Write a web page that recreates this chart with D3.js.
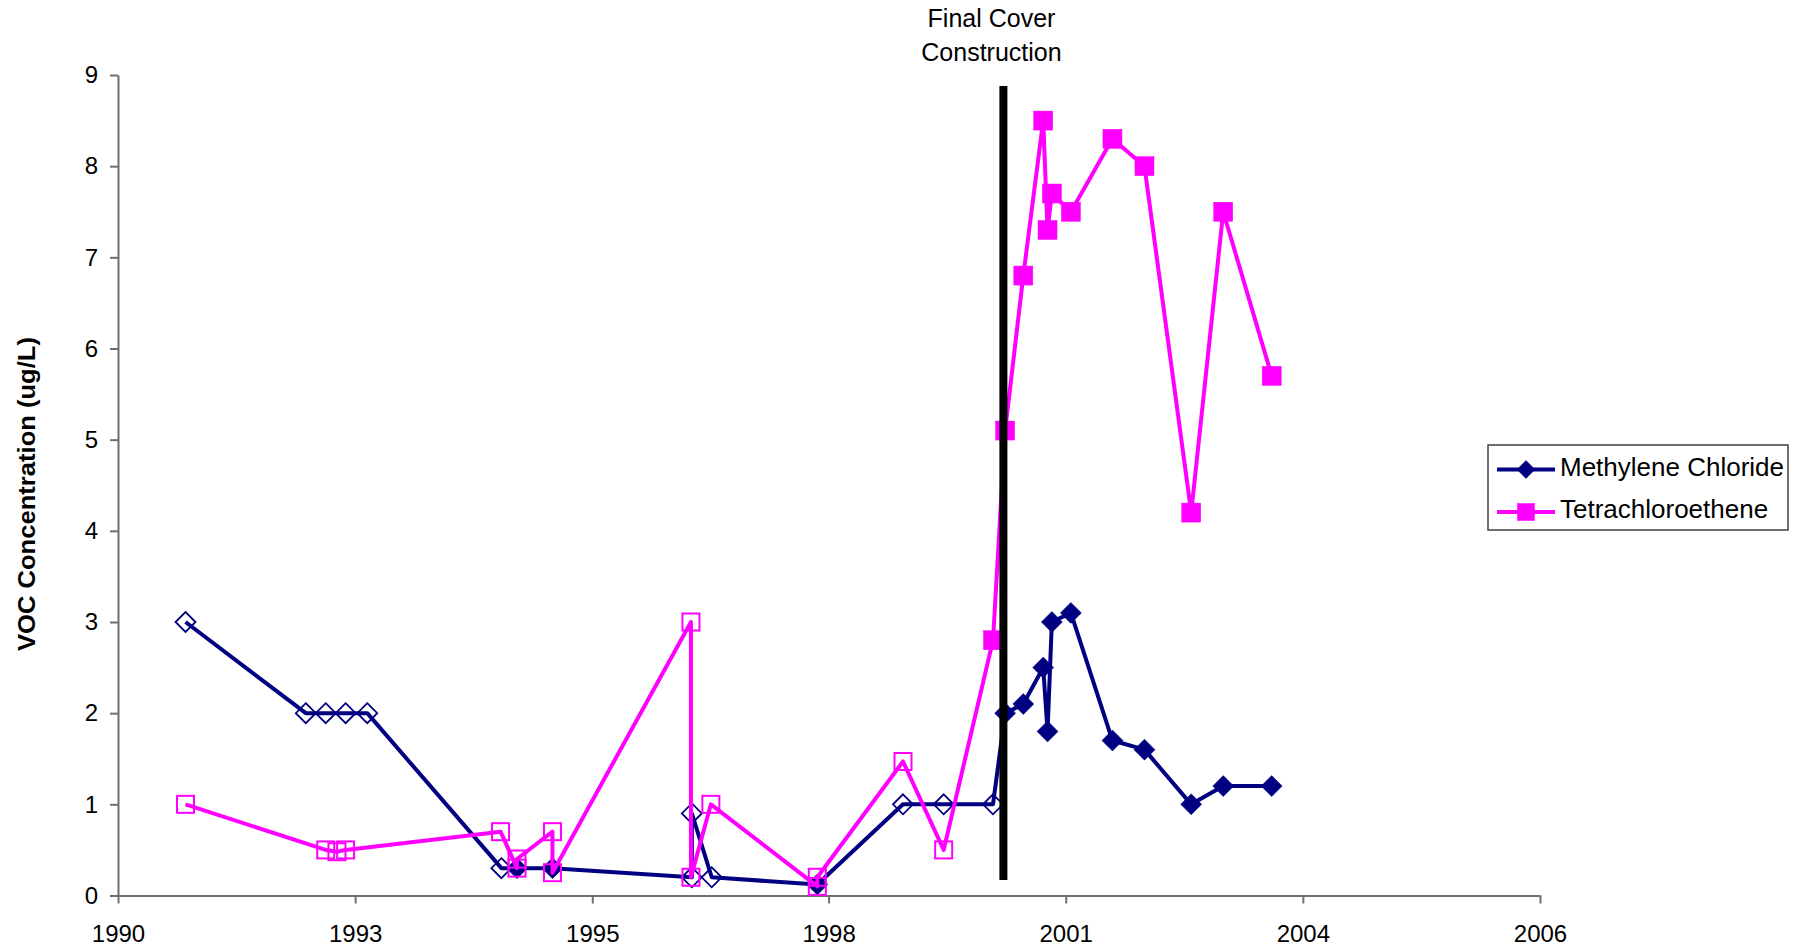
<!DOCTYPE html>
<html>
<head>
<meta charset="utf-8">
<script src="https://cdn.jsdelivr.net/npm/d3@7"></script>
<style>
  html, body { margin: 0; padding: 0; background: #ffffff; }
  svg { display: block; font-family: "Liberation Sans", Arial, sans-serif; }
</style>
</head>
<body>
<svg id="chart" width="1803" height="949"></svg>
<script>
// ---------- data (decimal years / ug/L) ----------
const mcDates = [1991.23, 1992.62, 1992.85, 1993.08, 1993.33, 1994.88, 1995.06, 1995.47, 1997.08, 1997.08, 1997.31, 1998.53, 1999.52, 1999.99, 2000.56, 2000.70, 2000.91, 2001.14, 2001.19, 2001.24, 2001.46, 2001.94, 2002.31, 2002.85, 2003.22, 2003.78];
const mcValues = [3.0, 2.0, 2.0, 2.0, 2.0, 0.3, 0.3, 0.3, 0.2, 0.9, 0.2, 0.12, 1.0, 1.0, 1.0, 2.0, 2.1, 2.5, 1.8, 3.0, 3.1, 1.7, 1.6, 1.0, 1.2, 1.2];
const mcDetected = [0, 0, 0, 0, 0, 0, 1, 1, 0, 0, 0, 1, 0, 0, 0, 1, 1, 1, 1, 1, 1, 1, 1, 1, 1, 1];

const pceDates = [1991.23, 1992.85, 1992.98, 1993.08, 1994.87, 1995.06, 1995.06, 1995.47, 1995.47, 1997.07, 1997.07, 1997.30, 1998.53, 1998.53, 1999.52, 1999.99, 2000.56, 2000.70, 2000.91, 2001.14, 2001.19, 2001.24, 2001.46, 2001.94, 2002.31, 2002.85, 2003.22, 2003.78];
const pceValues = [1.0, 0.5, 0.48, 0.5, 0.7, 0.3, 0.4, 0.7, 0.25, 3.0, 0.2, 1.0, 0.1, 0.2, 1.47, 0.5, 2.8, 5.1, 6.8, 8.5, 7.3, 7.7, 7.5, 8.3, 8.0, 4.2, 7.5, 5.7];
const pceDetected = [0, 0, 0, 0, 0, 0, 0, 0, 0, 0, 0, 0, 0, 0, 0, 0, 1, 1, 1, 1, 1, 1, 1, 1, 1, 1, 1, 1];

const seriesNames = ["Methylene Chloride", "Tetrachloroethene"];
const seriesColors = ["#000080", "#ff00ff"];

const xTickDates = [1990.45, 1993.19, 1995.93, 1998.66, 2001.40, 2004.14, 2006.88];
const xTickLabels = ["1990", "1993", "1995", "1998", "2001", "2004", "2006"];
const yTicks = [0, 1, 2, 3, 4, 5, 6, 7, 8, 9];

const coverDate = 2000.68;
const coverRange = [0.17, 8.88];
const coverLabel = ["Final Cover", "Construction"];
const yTitle = "VOC Concentration (ug/L)";

// ---------- layout ----------
const svg = d3.select("#chart");
svg.append("rect").attr("width", 1803).attr("height", 949).attr("fill", "#ffffff");

const x = d3.scaleLinear().domain([xTickDates[0], xTickDates[xTickDates.length - 1]]).range([118, 1540]);
const y = d3.scaleLinear().domain([0, 9]).range([895.5, 75]);
const axisColor = "#6e6e6e";

// y axis
const yAxis = svg.append("g").attr("transform", "translate(118,0)")
  .call(d3.axisLeft(y).tickValues(yTicks).tickFormat(d3.format("d")).tickSize(8).tickPadding(12).tickSizeOuter(0));
// x axis
const xAxis = svg.append("g").attr("transform", "translate(0,895.5)")
  .call(d3.axisBottom(x).tickValues(xTickDates).tickFormat((d, i) => xTickLabels[i]).tickSize(8).tickPadding(21).tickSizeOuter(0));

[yAxis, xAxis].forEach(g => {
  g.select(".domain").attr("stroke", axisColor).attr("stroke-width", 2);
  g.selectAll(".tick line").attr("stroke", axisColor).attr("stroke-width", 2);
  g.selectAll(".tick text").attr("fill", "#000").style("font-size", "24px")
    .style("font-family", "'Liberation Sans', Arial, sans-serif");
});

// y title
svg.append("text")
  .attr("transform", "translate(35,494) rotate(-90)")
  .attr("text-anchor", "middle")
  .style("font-size", "24px").style("font-weight", "bold")
  .attr("textLength", 314).attr("lengthAdjust", "spacingAndGlyphs")
  .text(yTitle);

// ---------- series ----------
const series = [
  { name: seriesNames[0], color: seriesColors[0], dates: mcDates, values: mcValues, det: mcDetected, shape: "diamond" },
  { name: seriesNames[1], color: seriesColors[1], dates: pceDates, values: pceValues, det: pceDetected, shape: "square" }
];

const line = d3.line().x(d => x(d.t)).y(d => y(d.v));

function drawMarker(g, shape, cx, cy, filled, color, legend) {
  if (shape === "diamond") {
    const r = legend ? 9 : (filled ? 10.5 : 10);
    g.append("path")
      .attr("d", `M${cx},${cy - r}L${cx + r},${cy}L${cx},${cy + r}L${cx - r},${cy}Z`)
      .attr("fill", filled ? color : "none")
      .attr("stroke", color).attr("stroke-width", filled ? 0.5 : 1.8);
  } else {
    const s = legend ? 17 : (filled ? 19 : 17);
    g.append("rect")
      .attr("x", cx - s / 2).attr("y", cy - s / 2).attr("width", s).attr("height", s)
      .attr("fill", filled ? color : "none")
      .attr("stroke", color).attr("stroke-width", filled ? 0.5 : 2);
  }
}

series.forEach(s => {
  const pts = s.dates.map((t, i) => ({ t: t, v: s.values[i], f: s.det[i] === 1 }));
  const g = svg.append("g");
  g.append("path").datum(pts).attr("d", line)
    .attr("fill", "none").attr("stroke", s.color).attr("stroke-width", 4)
    .attr("stroke-linejoin", "round");
  pts.forEach(p => drawMarker(g, s.shape, x(p.t), y(p.v), p.f, s.color, false));
});

// ---------- final cover line ----------
svg.append("line")
  .attr("x1", x(coverDate)).attr("x2", x(coverDate))
  .attr("y1", y(coverRange[0])).attr("y2", y(coverRange[1]))
  .attr("stroke", "#000").attr("stroke-width", 8);

svg.append("text").attr("x", 991.5).attr("y", 26.5).attr("text-anchor", "middle")
  .style("font-size", "25px").text(coverLabel[0]);
svg.append("text").attr("x", 991.5).attr("y", 60.5).attr("text-anchor", "middle")
  .style("font-size", "25px").text(coverLabel[1]);

// ---------- legend ----------
const lg = svg.append("g");
lg.append("rect").attr("x", 1488).attr("y", 445).attr("width", 300).attr("height", 85)
  .attr("fill", "#fff").attr("stroke", "#404040").attr("stroke-width", 1.5);
series.forEach((s, i) => {
  const cy = 469.5 + i * 42.5;
  lg.append("line").attr("x1", 1497).attr("x2", 1555).attr("y1", cy).attr("y2", cy)
    .attr("stroke", s.color).attr("stroke-width", 4);
  drawMarker(lg, s.shape, 1526, cy, true, s.color, true);
  lg.append("text").attr("x", 1560).attr("y", cy + 6.5 + (i === 0 ? 0 : -0.5))
    .style("font-size", "26px").text(s.name);
});
</script>
</body>
</html>
